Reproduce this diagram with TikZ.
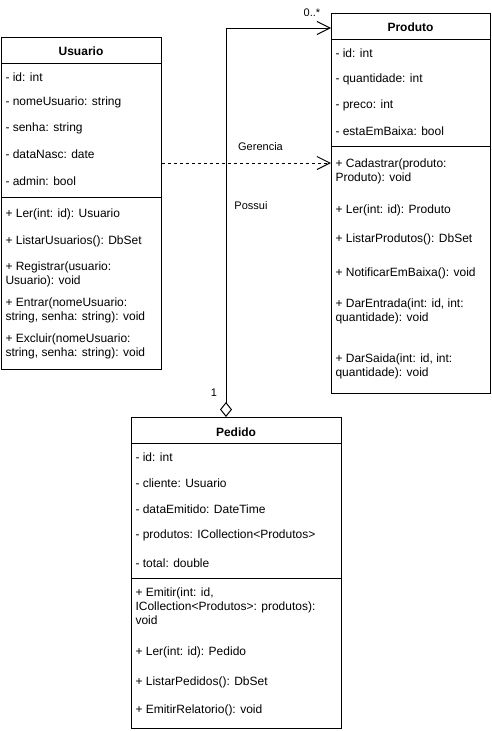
\documentclass[tikz,border=0pt]{standalone}
\usepackage{fontspec}
\setmainfont{Liberation Sans}
\usetikzlibrary{arrows.meta}
\begin{document}
\begin{tikzpicture}[x=1pt,y=-1pt,line width=1pt,
  classbox/.style={draw,inner sep=0,anchor=north west,fill=white},
  title/.style={font=\fontsize{12}{14}\selectfont\bfseries,inner sep=0},
  item/.style={font=\fontsize{12}{14}\selectfont,inner sep=0,anchor=west,align=left},
  lbl/.style={font=\fontsize{11}{13}\selectfont,inner sep=0},
  openarrow/.style={-{Straight Barb[length=13pt,width=13pt,line width=1pt]}}
]
\useasboundingbox (0,0) rectangle (491,731);

% ---------- Usuario ----------
\node[classbox,minimum width=160,minimum height=332] (usuario) at (1,37) {};
\draw ([yshift=-26]usuario.north west) -- ([yshift=-26]usuario.north east);
\draw ([yshift=-160]usuario.north west) -- ([yshift=-160]usuario.north east);
\node[title] (usuarioT) at (81,51) {Usuario};
\node[item] (u1) at (5,77) {- id: int};
\node[item] (u2) at (5,102) {- nomeUsuario: string};
\node[item] (u3) at (5,128) {- senha: string};
\node[item] (u4) at (5,154) {- dataNasc: date};
\node[item] (u5) at (5,181) {- admin: bool};
\node[item] (u6) at (5,214) {+ Ler(int: id): Usuario};
\node[item] (u7) at (5,241) {+ ListarUsuarios(): DbSet};
\node[item] (u8) at (5,274) {+ Registrar(usuario:\\Usuario): void};
\node[item] (u9) at (5,310) {+ Entrar(nomeUsuario:\\string, senha: string): void};
\node[item] (u10) at (5,346) {+ Excluir(nomeUsuario:\\string, senha: string): void};

% ---------- Produto ----------
\node[classbox,minimum width=159,minimum height=380] (produto) at (331,13) {};
\draw ([yshift=-26]produto.north west) -- ([yshift=-26]produto.north east);
\draw ([yshift=-133]produto.north west) -- ([yshift=-133]produto.north east);
\node[title] (produtoT) at (410.5,27) {Produto};
\node[item] (p1) at (335,53) {- id: int};
\node[item] (p2) at (335,79) {- quantidade: int};
\node[item] (p3) at (335,105) {- preco: int};
\node[item] (p4) at (335,131) {- estaEmBaixa: bool};
\node[item] (p5) at (335,171) {+ Cadastrar(produto:\\Produto): void};
\node[item] (p6) at (335,210) {+ Ler(int: id): Produto};
\node[item] (p7) at (335,239) {+ ListarProdutos(): DbSet};
\node[item] (p8) at (335,273) {+ NotificarEmBaixa(): void};
\node[item] (p9) at (335,311) {+ DarEntrada(int: id, int:\\quantidade): void};
\node[item] (p10) at (335,366) {+ DarSaida(int: id, int:\\quantidade): void};

% ---------- Pedido ----------
\node[classbox,minimum width=210,minimum height=311] (pedido) at (131,417) {};
\draw ([yshift=-26]pedido.north west) -- ([yshift=-26]pedido.north east);
\draw ([yshift=-161]pedido.north west) -- ([yshift=-161]pedido.north east);
\node[title] (pedidoT) at (236,432) {Pedido};
\node[item] (d1) at (135,457) {- id: int};
\node[item] (d2) at (135,483) {- cliente: Usuario};
\node[item] (d3) at (135,509) {- dataEmitido: DateTime};
\node[item] (d4) at (135,535) {- produtos: ICollection<Produtos>};
\node[item] (d5) at (135,563) {- total: double};
\node[item] (d6) at (135,606) {+ Emitir(int: id,\\ICollection<Produtos>: produtos):\\void};
\node[item] (d7) at (135,652) {+ Ler(int: id): Pedido};
\node[item] (d8) at (135,682) {+ ListarPedidos(): DbSet};
\node[item] (d9) at (135,710) {+ EmitirRelatorio(): void};

% ---------- Connectors ----------
\draw[openarrow,dash pattern=on 3pt off 3pt] (usuario.east |- 0,163) -- (produto.west |- 0,163);
\node[lbl] (gerencia) at (260.5,147) {Gerencia};

\draw[{Diamond[open,length=15pt,width=12pt,line width=1pt]}-{Straight Barb[length=13pt,width=13pt,line width=1pt]}]
  (pedido.north -| 226,0) |- (produto.west |- 0,28);
\node[lbl] (possui) at (251,206) {Possui};
\node[lbl] (mult0) at (312,13) {0..*};
\node[lbl] (mult1) at (214,393) {1};
\end{tikzpicture}
\end{document}
